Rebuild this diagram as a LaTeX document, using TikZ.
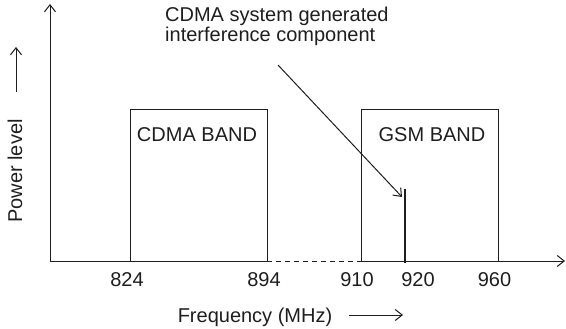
\documentclass[tikz,border=0pt]{standalone}
\usepackage{fontspec}
\setmainfont{Liberation Sans}
\usetikzlibrary{arrows.meta}
\definecolor{ink}{HTML}{1E1E1E}
\tikzset{
  lbl/.style={inner sep=0pt, anchor=base, text=ink, font=\fontsize{20}{20.5}\selectfont},
  ln/.style={draw=ink, line width=1pt},
  arr/.style={ln, -{Straight Barb[length=7pt,width=11pt,line width=1pt]}},
}
\begin{document}
\begin{tikzpicture}[x=1pt,y=-1pt]
\useasboundingbox (0,0) rectangle (566,329);
% axes
\coordinate (O) at (50,261);
\coordinate (ytop) at (50,4);
\coordinate (xend) at (565,261);
\coordinate (c1) at (130,261);
\coordinate (c2) at (267,261);
\coordinate (g1) at (361,261);
\coordinate (g2) at (498,261);
\coordinate (c1t) at (130,110);
\coordinate (c2t) at (267,110);
\coordinate (g1t) at (361,110);
\coordinate (g2t) at (498,110);
\draw[arr] (O) -- (ytop);
\draw[ln] (O) -- (c2);
\draw[ln, dashed, dash pattern=on 5pt off 4pt] (c2) -- (g1);
\draw[arr] (g1) -- (xend);
% bands
\draw[ln] (c1) -- (c1t) -- (c2t) -- (c2);
\draw[ln] (g1) -- (g1t) -- (g2t) -- (g2);
\node[lbl] (cdma) at (197,142) {CDMA BAND};
\node[lbl] (gsm) at (432,142) {GSM BAND};
% interference component
\coordinate (ib) at (405,263);
\coordinate (it) at (405,189);
\draw[draw=ink, line width=1.8pt] (ib) -- (it);
\node[lbl, anchor=base west, align=left] (ann) at (165,42) {CDMA system generated\\interference component};
\coordinate (as) at (278,65);
\coordinate (ae) at (402,197);
\draw[arr] (as) -- (ae);
% ticks labels
\node[lbl] (t824) at (127,286) {824};
\node[lbl] (t894) at (264,286) {894};
\node[lbl] (t910) at (357,286) {910};
\node[lbl] (t920) at (418,286) {920};
\node[lbl] (t960) at (494.5,286) {960};
% axis titles
\node[lbl] (freq) at (255,322) {Frequency (MHz)};
\coordinate (fa1) at (349,315);
\coordinate (fa2) at (403,315);
\draw[arr] (fa1) -- (fa2);
\node[lbl, rotate=90, anchor=center] (pow) at (15,171) {Power level};
\coordinate (pa1) at (16,92);
\coordinate (pa2) at (16,47);
\draw[arr] (pa1) -- (pa2);
\end{tikzpicture}
\end{document}
